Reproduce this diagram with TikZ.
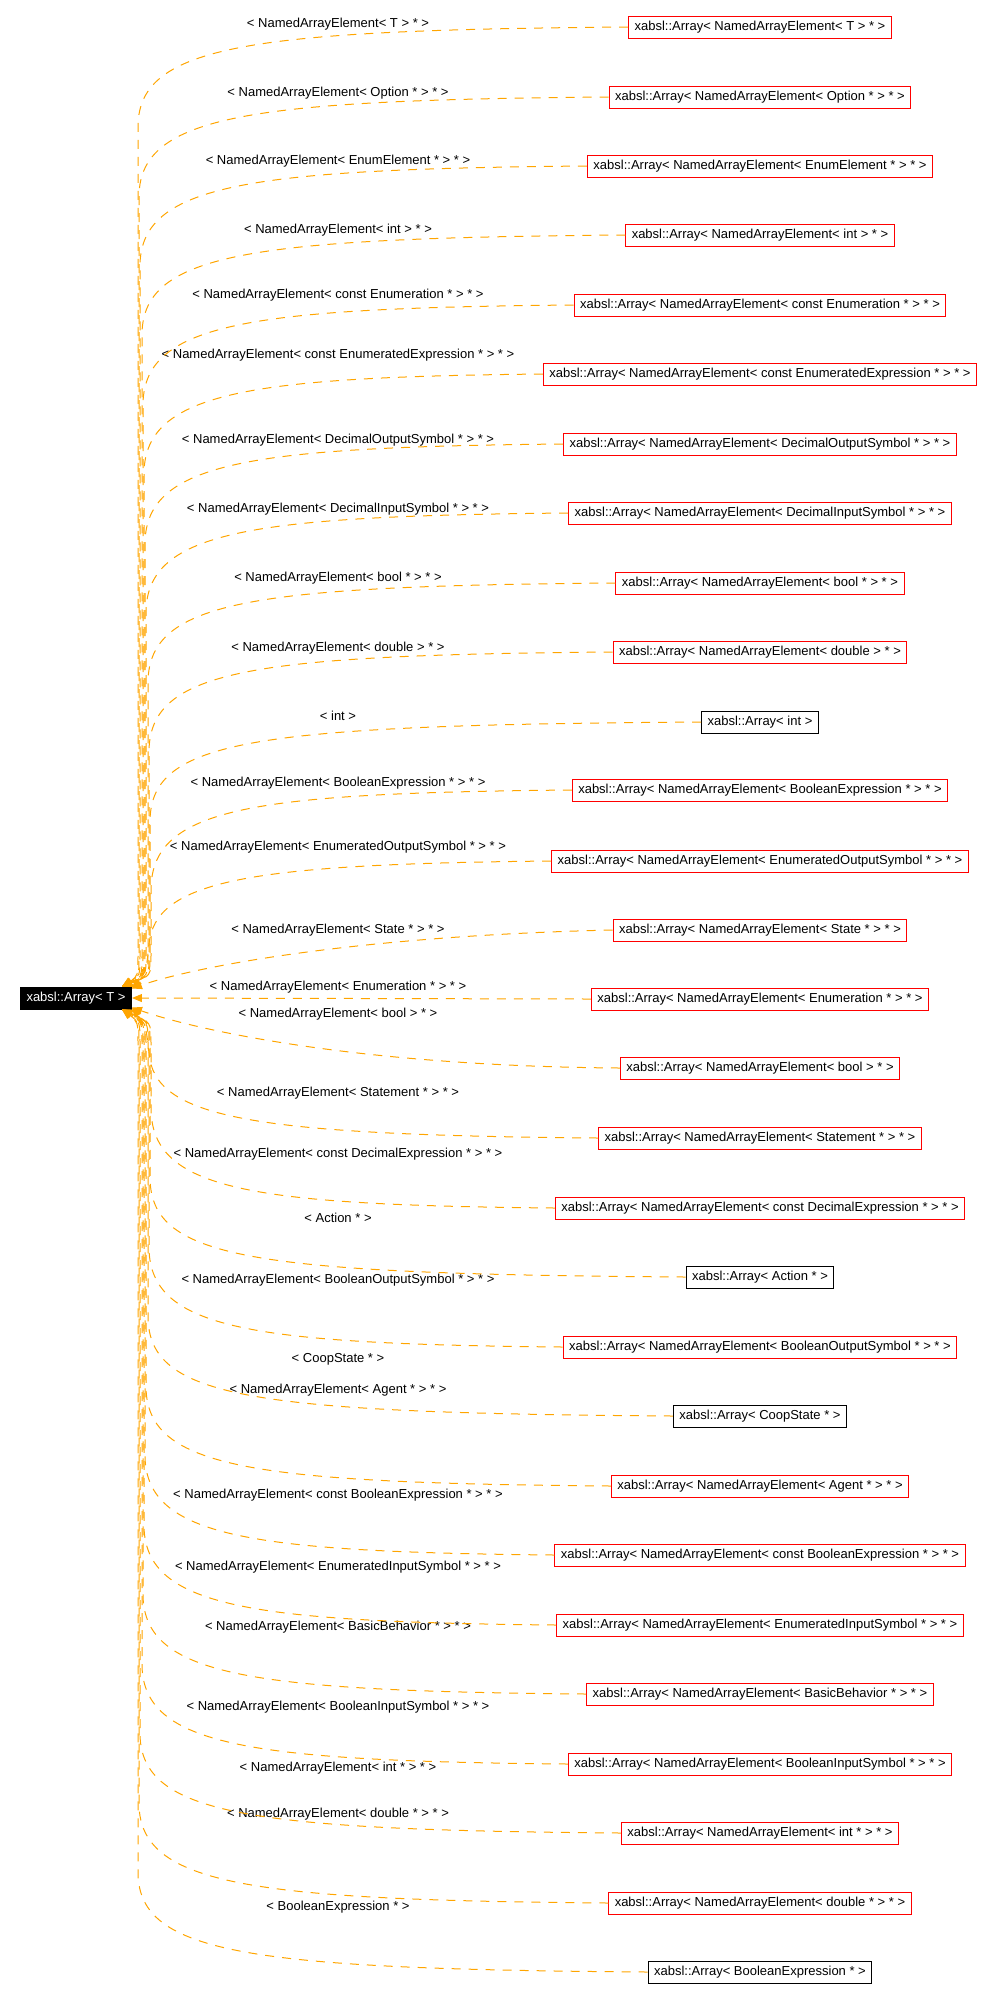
\documentclass[tikz,border=0pt]{standalone}
\usepackage{fontspec}
\setmainfont{Liberation Sans}
\usetikzlibrary{arrows.meta}
\definecolor{edgeorange}{HTML}{FFA500}
\newcommand{\graphfont}{\fontsize{6.5pt}{7.8pt}\selectfont}
\begin{document}
\begin{tikzpicture}[font=\graphfont,>={Triangle[length=5pt,width=4pt]},x=0.5pt,y=-0.5pt,
    cls/.style={draw=red,line width=0.5pt,inner xsep=3pt,inner ysep=0pt,minimum height=11pt},
    clsdoc/.style={cls,draw=black},
    rootcls/.style={cls,draw=black,fill=black,text=white},
    lbl/.style={inner sep=0pt},
    inh/.style={->,draw=edgeorange,line width=0.5pt,dash pattern=on 4.5pt off 4pt}]
    \useasboundingbox (0,0) rectangle (991,1999);

    % Base class.
    \node[rootcls] (root) at (76,998) {xabsl::Array< T >};

    % Instantiations.
    \node[cls] (c0) at (760,27) {xabsl::Array< NamedArrayElement< T > * >};
    \node[cls] (c1) at (760,97) {xabsl::Array< NamedArrayElement< Option * > * >};
    \node[cls] (c2) at (760,166) {xabsl::Array< NamedArrayElement< EnumElement * > * >};
    \node[cls] (c3) at (760,235) {xabsl::Array< NamedArrayElement< int > * >};
    \node[cls] (c4) at (760,305) {xabsl::Array< NamedArrayElement< const Enumeration * > * >};
    \node[cls] (c5) at (760,374) {xabsl::Array< NamedArrayElement< const EnumeratedExpression * > * >};
    \node[cls] (c6) at (760,444) {xabsl::Array< NamedArrayElement< DecimalOutputSymbol * > * >};
    \node[cls] (c7) at (760,513) {xabsl::Array< NamedArrayElement< DecimalInputSymbol * > * >};
    \node[cls] (c8) at (760,583) {xabsl::Array< NamedArrayElement< bool * > * >};
    \node[cls] (c9) at (760,652) {xabsl::Array< NamedArrayElement< double > * >};
    \node[clsdoc] (c10) at (760,722) {xabsl::Array< int >};
    \node[cls] (c11) at (760,790) {xabsl::Array< NamedArrayElement< BooleanExpression * > * >};
    \node[cls] (c12) at (760,861) {xabsl::Array< NamedArrayElement< EnumeratedOutputSymbol * > * >};
    \node[cls] (c13) at (760,930) {xabsl::Array< NamedArrayElement< State * > * >};
    \node[cls] (c14) at (760,999) {xabsl::Array< NamedArrayElement< Enumeration * > * >};
    \node[cls] (c15) at (760,1068) {xabsl::Array< NamedArrayElement< bool > * >};
    \node[cls] (c16) at (760,1138) {xabsl::Array< NamedArrayElement< Statement * > * >};
    \node[cls] (c17) at (760,1208) {xabsl::Array< NamedArrayElement< const DecimalExpression * > * >};
    \node[clsdoc] (c18) at (760,1277) {xabsl::Array< Action * >};
    \node[cls] (c19) at (760,1347) {xabsl::Array< NamedArrayElement< BooleanOutputSymbol * > * >};
    \node[clsdoc] (c20) at (760,1416) {xabsl::Array< CoopState * >};
    \node[cls] (c21) at (760,1486) {xabsl::Array< NamedArrayElement< Agent * > * >};
    \node[cls] (c22) at (760,1555) {xabsl::Array< NamedArrayElement< const BooleanExpression * > * >};
    \node[cls] (c23) at (760,1625) {xabsl::Array< NamedArrayElement< EnumeratedInputSymbol * > * >};
    \node[cls] (c24) at (760,1694) {xabsl::Array< NamedArrayElement< BasicBehavior * > * >};
    \node[cls] (c25) at (760,1764) {xabsl::Array< NamedArrayElement< BooleanInputSymbol * > * >};
    \node[cls] (c26) at (760,1833) {xabsl::Array< NamedArrayElement< int * > * >};
    \node[cls] (c27) at (760,1903) {xabsl::Array< NamedArrayElement< double * > * >};
    \node[clsdoc] (c28) at (760,1972) {xabsl::Array< BooleanExpression * >};

    % Template arguments.
    \node[lbl] (l0) at (338,24) {< NamedArrayElement< T > * >};
    \node[lbl] (l1) at (338,93) {< NamedArrayElement< Option * > * >};
    \node[lbl] (l2) at (338,161) {< NamedArrayElement< EnumElement * > * >};
    \node[lbl] (l3) at (338,230) {< NamedArrayElement< int > * >};
    \node[lbl] (l4) at (338,295) {< NamedArrayElement< const Enumeration * > * >};
    \node[lbl] (l5) at (338,355) {< NamedArrayElement< const EnumeratedExpression * > * >};
    \node[lbl] (l6) at (338,440) {< NamedArrayElement< DecimalOutputSymbol * > * >};
    \node[lbl] (l7) at (338,509) {< NamedArrayElement< DecimalInputSymbol * > * >};
    \node[lbl] (l8) at (338,578) {< NamedArrayElement< bool * > * >};
    \node[lbl] (l9) at (338,648) {< NamedArrayElement< double > * >};
    \node[lbl] (l10) at (338,716) {< int >};
    \node[lbl] (l11) at (338,783) {< NamedArrayElement< BooleanExpression * > * >};
    \node[lbl] (l12) at (338,847) {< NamedArrayElement< EnumeratedOutputSymbol * > * >};
    \node[lbl] (l13) at (338,930) {< NamedArrayElement< State * > * >};
    \node[lbl] (l14) at (338,987) {< NamedArrayElement< Enumeration * > * >};
    \node[lbl] (l15) at (338,1014) {< NamedArrayElement< bool > * >};
    \node[lbl] (l16) at (338,1093) {< NamedArrayElement< Statement * > * >};
    \node[lbl] (l17) at (338,1154) {< NamedArrayElement< const DecimalExpression * > * >};
    \node[lbl] (l18) at (338,1218) {< Action * >};
    \node[lbl] (l19) at (338,1280) {< NamedArrayElement< BooleanOutputSymbol * > * >};
    \node[lbl] (l20) at (338,1359) {< CoopState * >};
    \node[lbl] (l21) at (338,1390) {< NamedArrayElement< Agent * > * >};
    \node[lbl] (l22) at (338,1495) {< NamedArrayElement< const BooleanExpression * > * >};
    \node[lbl] (l23) at (338,1567) {< NamedArrayElement< EnumeratedInputSymbol * > * >};
    \node[lbl] (l24) at (338,1627) {< NamedArrayElement< BasicBehavior * > * >};
    \node[lbl] (l25) at (338,1707) {< NamedArrayElement< BooleanInputSymbol * > * >};
    \node[lbl] (l26) at (338,1768) {< NamedArrayElement< int * > * >};
    \node[lbl] (l27) at (338,1814) {< NamedArrayElement< double * > * >};
    \node[lbl] (l28) at (338,1907) {< BooleanExpression * >};

    % Edges from above.
    \draw[inh] (c0.west) .. controls (250,30) and (140,45) .. (138,125)
        -- (138,955) .. controls (138,976) .. ([xshift=-5pt]root.north east);
    \draw[inh] (c1.west) .. controls (250,100) and (141,115) .. (139,195)
        -- (139,955) .. controls (139,976) .. ([xshift=-5pt]root.north east);
    \draw[inh] (c2.west) .. controls (250,169) and (142,184) .. (140,264)
        -- (140,955) .. controls (140,976) .. ([xshift=-5pt]root.north east);
    \draw[inh] (c3.west) .. controls (250,238) and (144,253) .. (142,333)
        -- (142,955) .. controls (142,976) .. ([xshift=-5pt]root.north east);
    \draw[inh] (c4.west) .. controls (250,308) and (145,323) .. (143,403)
        -- (143,955) .. controls (143,976) .. ([xshift=-5pt]root.north east);
    \draw[inh] (c5.west) .. controls (250,377) and (146,392) .. (144,472)
        -- (144,955) .. controls (144,976) .. ([xshift=-5pt]root.north east);
    \draw[inh] (c6.west) .. controls (250,447) and (147,462) .. (145,542)
        -- (145,955) .. controls (145,976) .. ([xshift=-5pt]root.north east);
    \draw[inh] (c7.west) .. controls (250,516) and (148,531) .. (146,611)
        -- (146,955) .. controls (146,976) .. ([xshift=-5pt]root.north east);
    \draw[inh] (c8.west) .. controls (250,586) and (150,601) .. (148,681)
        -- (148,955) .. controls (148,976) .. ([xshift=-5pt]root.north east);
    \draw[inh] (c9.west) .. controls (250,655) and (151,670) .. (149,750)
        -- (149,955) .. controls (149,976) .. ([xshift=-5pt]root.north east);
    \draw[inh] (c10.west) .. controls (250,725) and (152,740) .. (150,820)
        -- (150,955) .. controls (150,976) .. ([xshift=-5pt]root.north east);
    \draw[inh] (c11.west) .. controls (250,793) and (153,808) .. (151,888)
        -- (151,955) .. controls (151,976) .. ([xshift=-5pt]root.north east);
    \draw[inh] (c12.west) .. controls (250,864) and (154,880) .. (149,945)
        .. controls (146,972) .. ([yshift=-1pt]root.north east);
    \draw[inh] (c13.west) .. controls (350,936) and (190,968) .. ([yshift=-1pt]root.north east);
    \draw[inh] (c14.west) -- (root.east);

    % Edges from below.
    \draw[inh] (c15.west) .. controls (350,1066) and (190,1028) .. ([yshift=1pt]root.south east);
    \draw[inh] (c16.west) .. controls (250,1135) and (154,1118) .. (149,1053)
        .. controls (146,1026) .. ([yshift=1pt]root.south east);
    \draw[inh] (c17.west) .. controls (250,1205) and (153,1190) .. (151,1110)
        -- (151,1043) .. controls (151,1022) .. ([xshift=-5pt]root.south east);
    \draw[inh] (c18.west) .. controls (250,1274) and (152,1259) .. (150,1179)
        -- (150,1043) .. controls (150,1022) .. ([xshift=-5pt]root.south east);
    \draw[inh] (c19.west) .. controls (250,1344) and (151,1329) .. (149,1249)
        -- (149,1043) .. controls (149,1022) .. ([xshift=-5pt]root.south east);
    \draw[inh] (c20.west) .. controls (250,1413) and (150,1398) .. (148,1318)
        -- (148,1043) .. controls (148,1022) .. ([xshift=-5pt]root.south east);
    \draw[inh] (c21.west) .. controls (250,1483) and (148,1468) .. (146,1388)
        -- (146,1043) .. controls (146,1022) .. ([xshift=-5pt]root.south east);
    \draw[inh] (c22.west) .. controls (250,1552) and (147,1537) .. (145,1457)
        -- (145,1043) .. controls (145,1022) .. ([xshift=-5pt]root.south east);
    \draw[inh] (c23.west) .. controls (250,1622) and (146,1607) .. (144,1527)
        -- (144,1043) .. controls (144,1022) .. ([xshift=-5pt]root.south east);
    \draw[inh] (c24.west) .. controls (250,1691) and (145,1676) .. (143,1596)
        -- (143,1043) .. controls (143,1022) .. ([xshift=-5pt]root.south east);
    \draw[inh] (c25.west) .. controls (250,1761) and (144,1746) .. (142,1666)
        -- (142,1043) .. controls (142,1022) .. ([xshift=-5pt]root.south east);
    \draw[inh] (c26.west) .. controls (250,1830) and (142,1815) .. (140,1735)
        -- (140,1043) .. controls (140,1022) .. ([xshift=-5pt]root.south east);
    \draw[inh] (c27.west) .. controls (250,1900) and (141,1885) .. (139,1805)
        -- (139,1043) .. controls (139,1022) .. ([xshift=-5pt]root.south east);
    \draw[inh] (c28.west) .. controls (250,1969) and (140,1954) .. (138,1874)
        -- (138,1043) .. controls (138,1022) .. ([xshift=-5pt]root.south east);
\end{tikzpicture}
\end{document}
